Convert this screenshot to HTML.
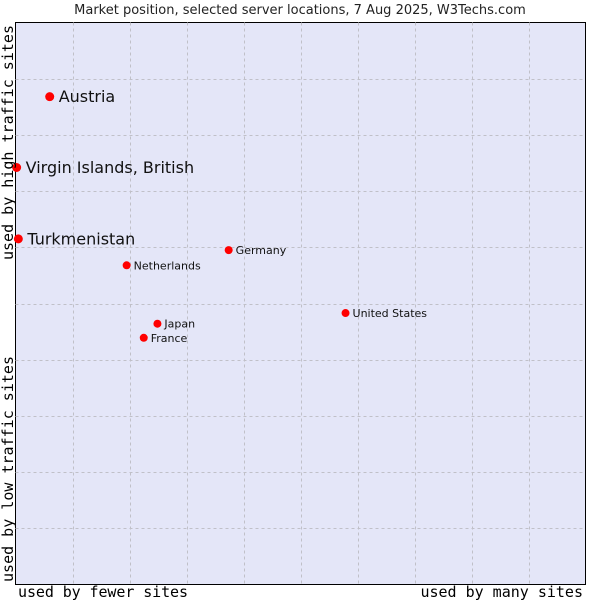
<!DOCTYPE html>
<html><head><meta charset="utf-8"><style>
body{margin:0;background:#fff;}
svg{display:block;font-family:"DejaVu Sans","Liberation Sans",sans-serif;}
.m{font-family:"DejaVu Sans Mono","Liberation Mono",monospace;}
</style></head><body>
<svg id="c" width="600" height="600">
<text x="300" y="14" text-anchor="middle" font-size="13" fill="#222">Market position, selected server locations, 7 Aug 2025, W3Techs.com</text>
<rect x="15.5" y="22.5" width="570" height="562" fill="#e4e6f8" stroke="#000"/>
<g id="grid"></g>
<g id="pts"></g>
<text class="m" x="18" y="597" font-size="15" textLength="170" fill="#000">used by fewer sites</text>
<text class="m" x="583" y="597" font-size="15" text-anchor="end" fill="#000">used by many sites</text>
<text class="m" transform="translate(13,260) rotate(-90)" font-size="15" textLength="235" fill="#000">used by high traffic sites</text>
<text class="m" transform="translate(13,582) rotate(-90)" font-size="15" textLength="226" fill="#000">used by low traffic sites</text>
</svg>
<script>
const names=["Austria","Virgin Islands, British","Turkmenistan","Germany","Netherlands","United States","Japan","France"];
const xs=[6,0.2,0.5,37.4,19.5,57.9,24.9,22.5];
const ys=[86.8,74.2,61.5,59.5,56.8,48.3,46.4,43.9];
const big=[1,1,1,0,0,0,0,0];
const X0=15.5,X1=585.5,Y0=584.5,Y1=22.5;
const sx=v=>X0+(X1-X0)*v/100, sy=v=>Y0-(Y0-Y1)*v/100;
const NS="http://www.w3.org/2000/svg";
const g=document.getElementById('grid'),p=document.getElementById('pts');
for(let i=1;i<10;i++){
 let l=document.createElementNS(NS,'line');
 
 
 let x=Math.round(sx(i*10))+0.5;
 l.setAttribute('x1',x);l.setAttribute('x2',x);l.setAttribute('y1',Y1);l.setAttribute('y2',Y0);
 l.setAttribute('stroke','#c0c0c8');l.setAttribute('stroke-dasharray','3,3');g.appendChild(l);
 let h=document.createElementNS(NS,'line');
 
 
 let y=Math.round(sy(i*10))+0.5;
 h.setAttribute('x1',X0);h.setAttribute('x2',X1);h.setAttribute('y1',y);h.setAttribute('y2',y);
 h.setAttribute('stroke','#c0c0c8');h.setAttribute('stroke-dasharray','3,3');g.appendChild(h);
}
names.forEach((n,i)=>{
 const x=sx(xs[i]),y=sy(ys[i]);
 let c=document.createElementNS(NS,'circle');
 
 
 c.setAttribute('cx',x);c.setAttribute('cy',y);c.setAttribute('r',big[i]?4.5:4);c.setAttribute('fill','#f00');p.appendChild(c);
 let t=document.createElementNS(NS,'text');
 
 
 t.setAttribute('x',x+(big[i]?9:7));t.setAttribute('y',y+(big[i]?5.5:4));
 t.setAttribute('font-size',big[i]?16:11);t.setAttribute('fill','#111');t.textContent=n;p.appendChild(t);
});
</script>
</body></html>
